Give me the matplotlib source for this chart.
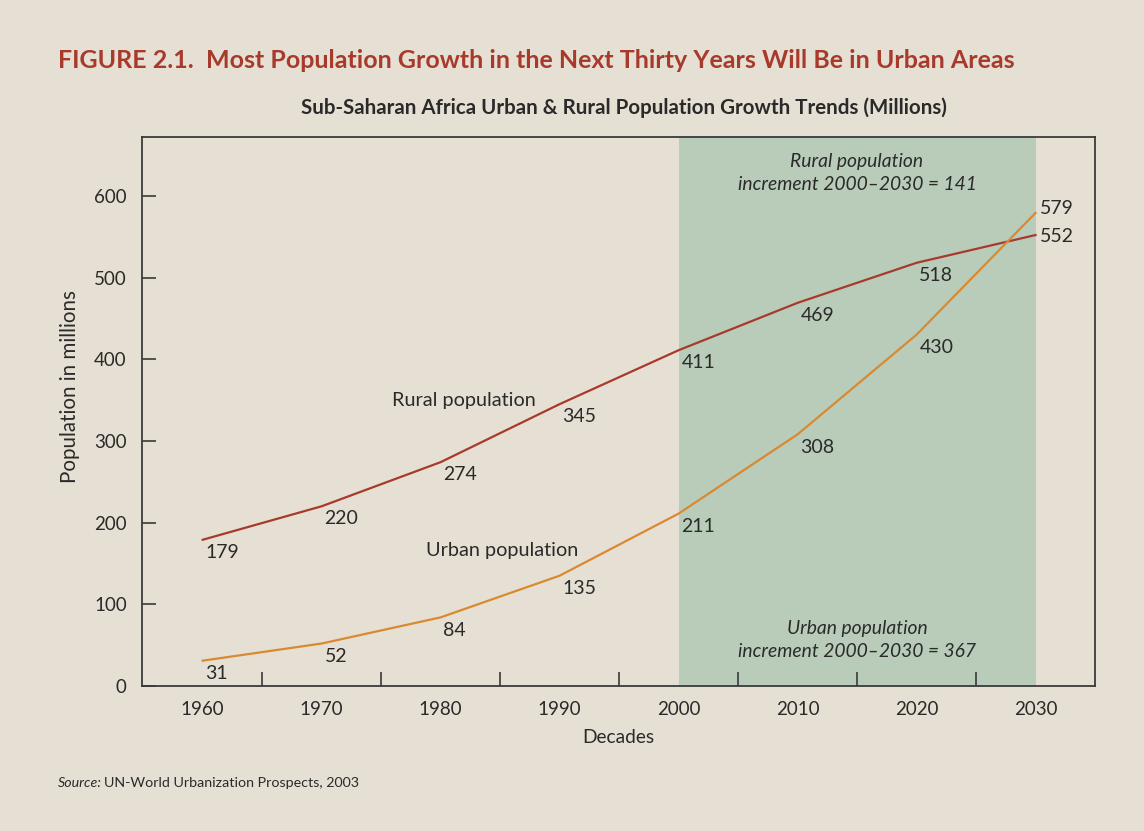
import matplotlib
matplotlib.use("Agg")
import matplotlib.pyplot as plt
from matplotlib.ticker import FixedLocator

decades = [1960, 1970, 1980, 1990, 2000, 2010, 2020, 2030]
rural = [179, 220, 274, 345, 411, 469, 518, 552]
urban = [31, 52, 84, 135, 211, 308, 430, 579]
y_ticks = [0, 100, 200, 300, 400, 500, 600]
minor_ticks = [1965, 1975, 1985, 1995, 2005, 2015, 2025]

fondo = "#E6E0D4"
verde = "#B9CCBA"
vermelho = "#A83A2C"
laranja = "#D98A30"
texto = "#2A2A2A"

plt.rcParams["font.family"] = ["Lato", "DejaVu Sans"]

fig = plt.figure(figsize=(11.44, 8.31), dpi=100, facecolor=fondo)
ax = fig.add_axes([142 / 1144, 1 - 686 / 831, (1095 - 142) / 1144, (686 - 137) / 831])
ax.set_facecolor(fondo)

ax.set_xlim(1954.9, 2035.0)
ax.set_ylim(0, 672)

# faixa de projecao 2000-2030
ax.axvspan(2000, 2030, color=verde, lw=0, zorder=0)

ax.plot(decades, rural, color=vermelho, lw=1.6, zorder=3)
ax.plot(decades, urban, color=laranja, lw=1.6, zorder=3)

# rotulos dos valores
for x, v in zip(decades, rural):
    if x == 2030:
        ax.annotate(str(v), (x, v), xytext=(3, -1), textcoords="offset points",
                    ha="left", va="center", fontsize=14, color=texto)
    else:
        ax.annotate(str(v), (x, v), xytext=(2, -3), textcoords="offset points",
                    ha="left", va="top", fontsize=14, color=texto)
for x, v in zip(decades, urban):
    if x == 2030:
        ax.annotate(str(v), (x, v), xytext=(3, 3), textcoords="offset points",
                    ha="left", va="center", fontsize=14, color=texto)
    else:
        ax.annotate(str(v), (x, v), xytext=(2, -3), textcoords="offset points",
                    ha="left", va="top", fontsize=14, color=texto)

ax.text(1981.95, 350, "Rural population", ha="center", va="center", fontsize=14.3, color=texto)
ax.text(1985.2, 166, "Urban population", ha="center", va="center", fontsize=14.3, color=texto)
ax.text(2015, 628, "Rural population\nincrement 2000\u20132030 = 141", ha="center", va="center",
        fontsize=13.9, style="italic", color=texto, linespacing=1.4)
ax.text(2015, 56, "Urban population\nincrement 2000\u20132030 = 367", ha="center", va="center",
        fontsize=13.9, style="italic", color=texto, linespacing=1.4)

ax.set_xticks(decades)
ax.set_xticklabels([str(d) for d in decades])
ax.xaxis.set_minor_locator(FixedLocator(minor_ticks))
ax.tick_params(axis="x", which="major", length=0, pad=11, labelsize=13.5, labelcolor=texto)
ax.tick_params(axis="x", which="minor", direction="in", length=10, width=1.2, color="#3A3A3A")
ax.set_yticks(y_ticks)
ax.tick_params(axis="y", direction="in", length=10, width=1.2, color="#3A3A3A",
               pad=11, labelsize=13.5, labelcolor=texto)

for s in ax.spines.values():
    s.set_color("#3A3A3A")
    s.set_linewidth(1.3)

ax.set_xlabel("Decades", fontsize=13.8, color=texto, labelpad=8)
ax.set_ylabel("Population in millions", fontsize=14.8, color=texto)
ax.yaxis.set_label_coords(-0.065, 0.545)

fig.text(58 / 1144, 1 - 60 / 831,
         "FIGURE 2.1.  Most Population Growth in the Next Thirty Years Will Be in Urban Areas",
         fontsize=18, fontweight="bold", color=vermelho, ha="left", va="center")
fig.text(624 / 1144, 1 - 108 / 831,
         "Sub-Saharan Africa Urban & Rural Population Growth Trends (Millions)",
         fontsize=14.8, fontweight="bold", color=texto, ha="center", va="center")
fig.text(58 / 1144, 1 - 783 / 831, "Source:", fontsize=10.3, style="italic",
         color=texto, ha="left", va="center")
fig.text(104 / 1144, 1 - 783 / 831, "UN-World Urbanization Prospects, 2003", fontsize=10.3,
         color=texto, ha="left", va="center")

fig.savefig("out.png", dpi=100, facecolor=fondo)
